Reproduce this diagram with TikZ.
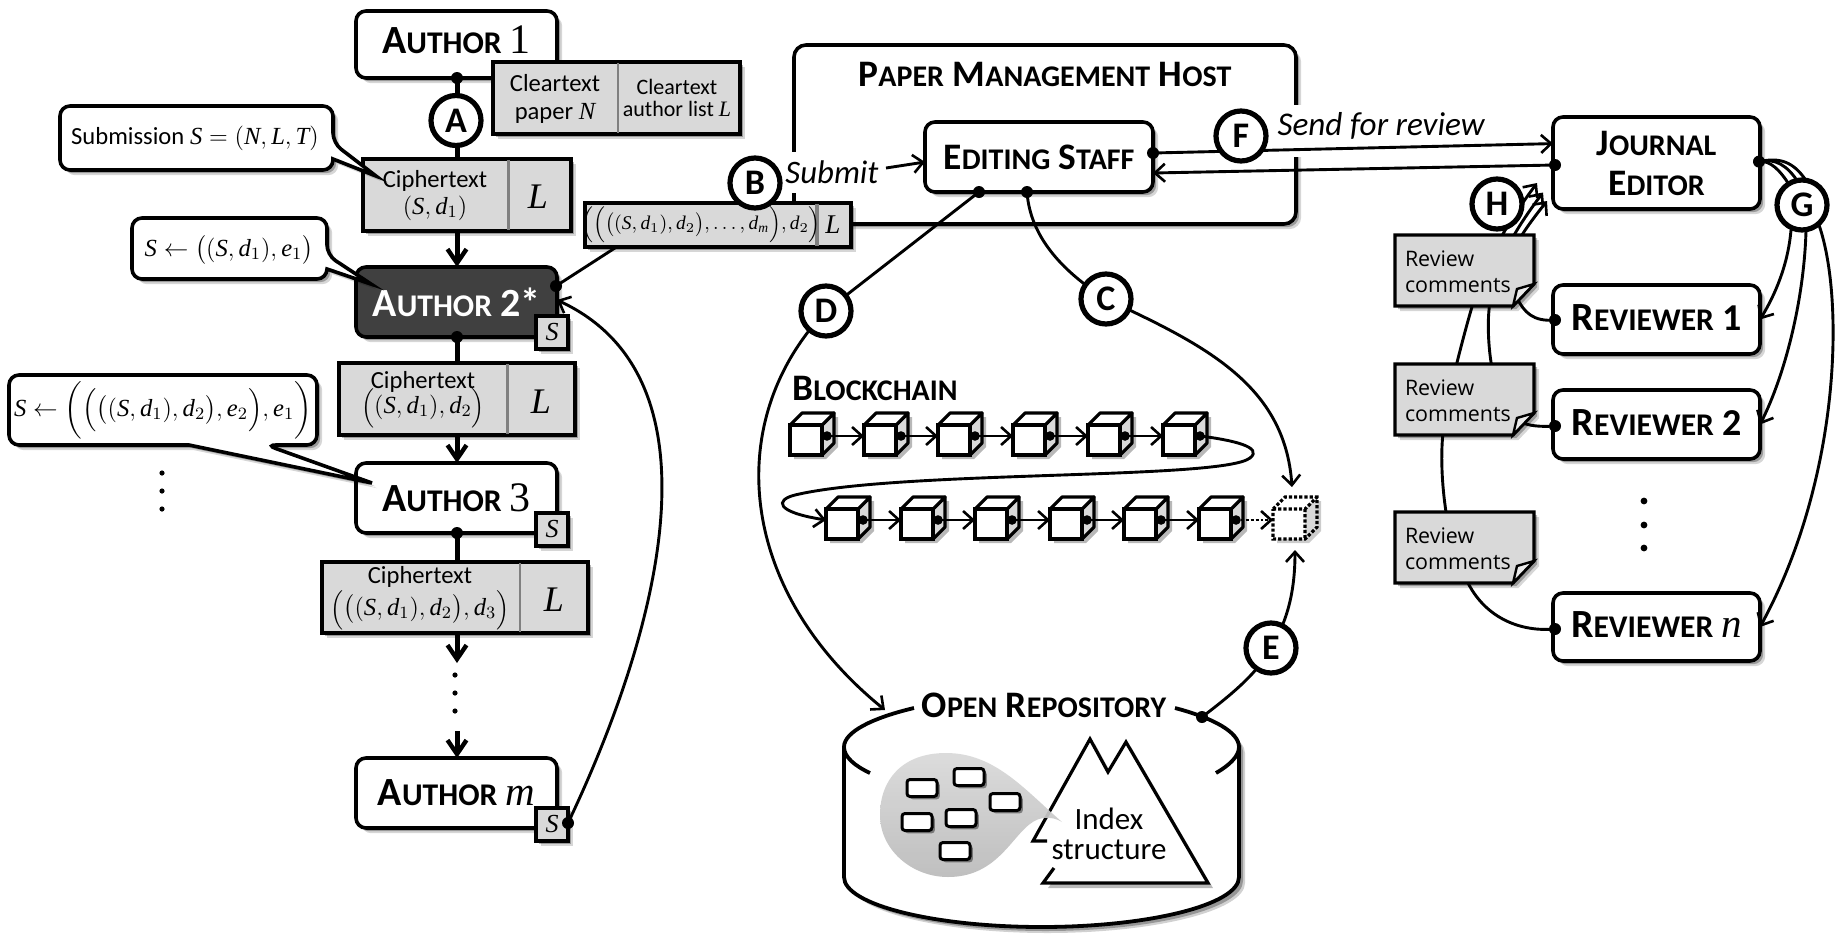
\RequirePackage{fix-cm}
\documentclass[tikz,border=0pt]{standalone}
\usepackage{amsmath}
\usepackage{fontspec}
\setmainfont{Carlito}
\newfontfamily\notefont{Open Sans}
\newfontfamily\lsf{Liberation Serif}[NFSSFamily=lserif]
\DeclareSymbolFont{lsit}{TU}{lserif}{m}{it}
\DeclareSymbolFont{lsrm}{TU}{lserif}{m}{n}
\DeclareMathSymbol{S}{\mathalpha}{lsit}{`S}
\DeclareMathSymbol{N}{\mathalpha}{lsit}{`N}
\DeclareMathSymbol{L}{\mathalpha}{lsit}{`L}
\DeclareMathSymbol{T}{\mathalpha}{lsit}{`T}
\DeclareMathSymbol{d}{\mathalpha}{lsit}{`d}
\DeclareMathSymbol{e}{\mathalpha}{lsit}{`e}
\DeclareMathSymbol{m}{\mathalpha}{lsit}{`m}
\DeclareMathSymbol{n}{\mathalpha}{lsit}{`n}
\DeclareMathSymbol{1}{\mathalpha}{lsrm}{`1}
\DeclareMathSymbol{2}{\mathalpha}{lsrm}{`2}
\DeclareMathSymbol{3}{\mathalpha}{lsrm}{`3}
\DeclareMathSymbol{(}{\mathopen}{lsrm}{`(}
\DeclareMathSymbol{)}{\mathclose}{lsrm}{`)}
\usetikzlibrary{arrows.meta,shadows,calc}
\definecolor{boxgray}{HTML}{D9D9D9}
\definecolor{divgray}{HTML}{808080}
\definecolor{darkbox}{HTML}{404040}
\newcommand{\fs}[1]{\fontsize{#1}{#1}\selectfont}
\newcommand{\SC}[2]{{\bfseries\fs{18.7}#1\fs{15}#2}}
\newcommand{\SCA}[2]{{\bfseries\fs{20}#1\fs{15.8}#2}}
\newcommand{\mnum}[1]{{\lsf\fs{21}#1}}
\newcommand{\up}[2]{\raisebox{#1}[\height][\depth]{#2}}
\newcommand{\tallL}{\mbox{\fs{10.5}$\Bigl($}}
\newcommand{\tallR}{\mbox{\fs{10.5}$\Bigr)$}}
\tikzset{
  softshadow/.style={drop shadow={shadow xshift=2.6pt,shadow yshift=-2.6pt,opacity=.16,fill=black},
                     drop shadow={shadow xshift=1.6pt,shadow yshift=-1.6pt,opacity=.28,fill=black}},
  wh/.style 2 args={minimum width=#1*.5pt,minimum height=#2*.5pt},
  basenode/.style={inner sep=0pt,outer sep=0pt,align=center},
  actor/.style={basenode,draw=black,line width=1.8pt,rounded corners=5pt,fill=white,softshadow,font=\fs{18}},
  darkactor/.style={actor,fill=darkbox,text=white},
  databox/.style={basenode,draw=black,line width=2pt,fill=boxgray,softshadow},
  sbox/.style={databox,wh={32}{33},font=\fs{13}},
  divider/.style={draw=divgray,line width=1.1pt},
  tag/.style={basenode,circle,draw=black,line width=2.6pt,fill=white,minimum size=25pt,font=\bfseries\fs{18}},
  dotn/.style={circle,fill=black,inner sep=0pt,outer sep=0pt,minimum size=6pt},
  smalldot/.style={circle,fill=black,inner sep=0pt,outer sep=0pt,minimum size=4.8pt},
  ell/.style={circle,fill=black,inner sep=0pt,outer sep=0pt,minimum size=2.6pt},
  heavy/.style={draw=black,line width=2.5pt},
  heavyarrow/.style={heavy,-{Straight Barb[length=7pt,width=9.5pt,line width=2.2pt]}},
  conn/.style={draw=black,line width=1.45pt},
  connarrow/.style={conn,-{Straight Barb[length=5pt,width=9pt,line width=1.3pt]}},
  callout/.style={draw=black,line width=1.8pt,fill=white,softshadow},
  label/.style={basenode,font=\fs{12.3}},
  cubefront/.style={basenode,draw=black,line width=1.6pt,fill=white,wh={32}{30}},
  noteface/.style={draw=black,line width=1.6pt,fill=boxgray,softshadow},
  minibox/.style={basenode,draw=black,line width=1.5pt,rounded corners=1.5pt,fill=white,wh={30}{17},
    drop shadow={shadow xshift=1.4pt,shadow yshift=-1.4pt,opacity=.4,fill=black}},
}
\newcommand{\cube}[3]{%
  \begin{scope}[shift={(#2,#3)}]
    \path[fill=white,drop shadow={shadow xshift=2pt,shadow yshift=-2pt,opacity=.28,fill=black}]
      (0,12)--(12,0)--(44,0)--(44,30)--(32,42)--(0,42)--cycle;
    \draw[line width=1.6pt,fill=boxgray,line join=round] (32,12)--(44,0)--(44,30)--(32,42)--cycle;
    \draw[line width=1.6pt,fill=white,line join=round] (0,12)--(12,0)--(44,0)--(32,12)--cycle;
    \node[cubefront] (#1) at (16,27) {};
    \node[smalldot] (#1d) at (37,23) {};
  \end{scope}}
\newcommand{\revnote}[2]{%
  \begin{scope}[shift={(1395,#2)}]
    \draw[noteface,line join=miter] (0,0)--(139,0)--(139,49)--(118,71)--(0,71)--cycle;
    \draw[line width=1.2pt,fill=white!92!black,line join=miter] (139,49)--(118,71)--(122,54)--cycle;
    \node[basenode,align=left,anchor=north west,font=\notefont\fs{10.7}] (#1) at (10,16)
      {Review\\[2.3pt]comments};
  \end{scope}}
\begin{document}
\begin{tikzpicture}[x=.5pt,y=-.5pt]
\useasboundingbox (0,0) rectangle (1844,943);
\fill[white] (0,0) rectangle (1844,943);

% ---- paper management host
\node[actor,wh={502}{179},rounded corners=6pt] (host) at (1045,134.5) {};
\fill[white] (786,152) rectangle (804,193);
\fill[white] (1286,105) rectangle (1306,157);
\node[basenode] (hosttitle) at (1045,74) {\SC{P}{APER}\hspace{2pt} \SC{M}{ANAGEMENT}\hspace{2pt} \SC{H}{OST}};

% ---- left column
\node[actor,wh={201}{67}] (a1) at (456.5,44.5) {\up{2.4pt}{\SCA{A}{UTHOR} \mnum{1}}};
\node[dotn] (a1d) at (457,78) {};
\node[darkactor,wh={201}{70}] (a2) at (456.5,302) {\SCA{A}{UTHOR} {\bfseries\fs{20}2*}};
\node[dotn] (a2d) at (457,337) {};
\node[dotn] (a2r) at (556,286) {};
\node[actor,wh={201}{70}] (a3) at (456.5,498) {\SCA{A}{UTHOR} \mnum{3}};
\node[dotn] (a3d) at (457,533) {};
\node[actor,wh={201}{70}] (am) at (456.5,793) {\SCA{A}{UTHOR} {\fs{20.5}$m$}};

% column connectors
\draw[heavy] (a1d.center) -- (457,159);
\node[databox,wh={208}{72}] (ct1) at (467,195) {};
\draw[heavyarrow] (ct1.south-|a1d) -- (a2.north-|a1d);
\draw[heavy] (a2d.center) -- (457,363);
\node[databox,wh={236}{72}] (ct2) at (457,399) {};
\draw[heavyarrow] (ct2.south-|a2d) -- (a3.north-|a2d);
\draw[heavy] (a3d.center) -- (457,562);
\node[databox,wh={266}{71}] (ct3) at (455,597.5) {};
\coordinate (ctend) at (457,663);
\draw[heavyarrow] (ct3.south-|a3d) -- (ctend);
\coordinate (amstart) at (457,731);
\draw[heavyarrow] (amstart) -- (am.north-|a3d);

\draw[divider] (508.5,160) -- (508.5,230);
\node[label] (ct1a) at (435,181) {Ciphertext};
\node[label] (ct1b) at (435,208) {$(S,d_1)$};
\node[label,font=\fs{18}] (ct1c) at (538,197) {$L$};
\draw[divider] (507.5,364) -- (507.5,434);
\node[label] (ct2a) at (423,382) {Ciphertext};
\node[label] (ct2b) at (423,408) {\tallL$(S,d_1),d_2$\tallR};
\node[label,font=\fs{18}] (ct2c) at (541,402) {$L$};
\draw[divider] (520,563) -- (520,632);
\node[label] (ct3a) at (420,577) {Ciphertext};
\node[label] (ct3b) at (420,610) {\tallL$\bigl((S,d_1),d_2\bigr),d_3$\tallR};
\node[label,font=\fs{18}] (ct3c) at (554,600) {$L$};

% A tag and cleartext box
\node[tag] (tA) at (456,120.5) {A};
\node[databox,wh={247}{72}] (clear) at (616,98) {};
\draw[divider] (618,63) -- (618,133);
\node[label] (cl1) at (555,99) {Cleartext\\[1.5pt]paper $N$};
\node[label,font=\fs{11}] (cl2) at (677,98) {Cleartext\\[.3pt]author list $L$};

% S badges
\node[sbox] (s2) at (552,332.5) {$S$};
\node[sbox] (s3) at (552,529.5) {$S$};
\node[sbox] (sm) at (552,824) {$S$};
\node[dotn] (smd) at (568,823) {};
\draw[connarrow] (smd.center) .. controls (655,640) and (730,380) .. (a2.east|-300,300);

% callouts
\draw[callout] [rounded corners=5pt] (60,106) -- (333,106) -- (333,143) [sharp corners] -- (376,176) -- (333,159) [rounded corners=5pt] -- (333,170) -- (60,170) -- cycle;
\node[label] (co1) at (195,138) {Submission $S=(N,L,T)$};
\draw[callout] [rounded corners=5pt] (132,218) -- (327,218) -- (327,255) [sharp corners] -- (371,284) -- (327,269) [rounded corners=5pt] -- (327,279) -- (132,279) -- cycle;
\node[label] (co2) at (229,250) {$S\leftarrow\bigl((S,d_1),e_1\bigr)$};
\draw[callout] [rounded corners=5pt] (9,375) -- (317,375) -- (317,445) -- (266,445) [sharp corners] -- (372,483) -- (189,445) [rounded corners=5pt] -- (9,445) -- cycle;
\node[label] (co3) at (163,410) {$S\leftarrow\biggl(\Bigl(\bigl((S,d_1),d_2\bigr),e_2\Bigr),e_1\biggr)$};
\node[ell] (lv1) at (162,473) {};
\node[ell] (lv2) at (162,491) {};
\node[ell] (lv3) at (162,509) {};
\node[ell] (cv1) at (455,675) {};
\node[ell] (cv2) at (455,693) {};
\node[ell] (cv3) at (455,711) {};

% wide box and B
\draw[conn] (a2r.center) -- (618,246);
\node[databox,wh={266.5}{44}] (wide) at (717.75,225) {};
\draw[divider,line width=1.6pt] (817,204) -- (817,246);
\node[label,font=\fs{9.7}] (wtext) at (701,225) {$\Bigl(\Bigl(\bigl((S,d_1),d_2\bigr),\dots,d_m\Bigr),d_2\Bigr)$};
\node[label,font=\fs{13.5}] (wl) at (833,225) {$L$};
\node[basenode,font=\itshape\fs{16.4}] (submit) at (832,172) {Submit};
\node[tag] (tB) at (755,183) {B};

% editing staff
\node[actor,wh={228}{70}] (staff) at (1039,157) {\SC{E}{DITING} \SC{S}{TAFF}};
\draw[connarrow] (886,168) -- (staff.west|-925,162);
\node[dotn] (sd1) at (979,192) {};
\node[dotn] (sd2) at (1027,192) {};
\node[dotn] (sdr) at (1153,153) {};

% journal editor etc
\node[actor,wh={207}{92}] (je) at (1656.5,163) {\SC{J}{OURNAL}\\[2pt]\SC{E}{DITOR}};
\node[actor,wh={207}{69}] (r1) at (1656.5,319.5) {\up{1.2pt}{\SCA{R}{EVIEWER} {\bfseries\fs{19}1}}};
\node[actor,wh={207}{69}] (r2) at (1656.5,424.5) {\up{1.2pt}{\SCA{R}{EVIEWER} {\bfseries\fs{19}2}}};
\node[actor,wh={207}{68}] (rn) at (1656.5,627) {\up{1.2pt}{\SCA{R}{EVIEWER} {\fs{20.5}$n$}}};
\node[ell,minimum size=3.4pt] (rv1) at (1644,501) {};
\node[ell,minimum size=3.4pt] (rv2) at (1644,525) {};
\node[ell,minimum size=3.4pt] (rv3) at (1644,548) {};

% F
\node[basenode,font=\itshape\fs{16.6}] (send) at (1381,126) {Send for review};
\node[dotn] (jl) at (1555,165) {};
\draw[connarrow] (sdr.center) -- (je.west|-1553,143.6);
\draw[connarrow] (jl.center) -- (staff.east|-1153,173);
\node[tag] (tF) at (1241,136) {F};

% G
\node[dotn] (jr) at (1759,161.6) {};
\draw[conn] (jr.center) .. controls (1770,160) and (1780,170) .. (1790,186);
\draw[conn] (jr.center) .. controls (1775,158) and (1787,165) .. (1798,182);
\draw[conn] (jr.center) .. controls (1780,157) and (1793,162) .. (1805,179);
\draw[connarrow] (1791,230) .. controls (1788,265) and (1775,295) .. (r1.east);
\draw[connarrow] (1806,231) .. controls (1804,300) and (1785,375) .. (r2.east);
\draw[connarrow] (1819,225) .. controls (1845,300) and (1840,480) .. (rn.east);
\node[tag] (tG) at (1802,205) {G};

% reviewer to notes, H
\node[dotn] (r1d) at (1555,320) {};
\node[dotn] (r2d) at (1555,426) {};
\node[dotn] (rnd) at (1555,629) {};
\draw[connarrow] (r1d.center) .. controls (1533,322) and (1524,312) .. (1517,298) .. controls (1500,270) and (1508,250) .. (1547,201);
\draw[connarrow] (r2d.center) .. controls (1540,427) and (1530,426) .. (1520,422) .. controls (1492,410) and (1486,340) .. (1489,310) .. controls (1492,270) and (1511,235) .. (1543,192.5);
\draw[connarrow] (rnd.center) .. controls (1523,632) and (1487,620) .. (1468,583) .. controls (1447,550) and (1437,470) .. (1444,425) .. controls (1449,390) and (1465,330) .. (1474,300) .. controls (1486,260) and (1506,225) .. (1537,183);
\revnote{n1}{235}
\revnote{n2}{364}
\revnote{n3}{512}
\node[tag] (tH) at (1497,204) {H};

% D, C
\node[basenode] (bclabel) at (875,388) {\SC{B}{LOCKCHAIN}};
\draw[conn] (sd1.center) -- (826,311);
\draw[connarrow] (826,311) .. controls (722,420) and (737,590) .. (885,710);
\draw[conn] (sd2.center) .. controls (1030,235) and (1060,270) .. (1106,299);
\draw[connarrow] (1106,299) .. controls (1205,345) and (1285,385) .. (1292,487);
\node[tag] (tD) at (826,311) {D};
\node[tag] (tC) at (1106,299) {C};

% blockchain
\cube{c1}{790}{413}\cube{c2}{864}{413}\cube{c3}{938}{413}\cube{c4}{1013}{413}\cube{c5}{1088}{413}\cube{c6}{1163}{413}
\cube{c7}{826}{497}\cube{c8}{901}{497}\cube{c9}{975}{497}\cube{c10}{1050}{497}\cube{c11}{1124}{497}\cube{c12}{1199}{497}
\draw[connarrow] (c1d.center) -- (c2.west|-c1d);
\draw[connarrow] (c2d.center) -- (c3.west|-c2d);
\draw[connarrow] (c3d.center) -- (c4.west|-c3d);
\draw[connarrow] (c4d.center) -- (c5.west|-c4d);
\draw[connarrow] (c5d.center) -- (c6.west|-c5d);
\draw[connarrow] (c6d.center) .. controls (1232,440) and (1264,447) .. (1250,458) .. controls (1222,480) and (900,470) .. (795,495) .. controls (775,500) and (775,512) .. (c7.west|-c7d);
\draw[connarrow] (c7d.center) -- (c8.west|-c7d);
\draw[connarrow] (c8d.center) -- (c9.west|-c8d);
\draw[connarrow] (c9d.center) -- (c10.west|-c9d);
\draw[connarrow] (c10d.center) -- (c11.west|-c10d);
\draw[connarrow] (c11d.center) -- (c12.west|-c11d);
% pending dotted block
\begin{scope}[shift={(1273,497)}]
  \path[fill=white,drop shadow={shadow xshift=2pt,shadow yshift=-2pt,opacity=.2,fill=black}] (0,12)--(12,0)--(44,0)--(44,30)--(32,42)--(0,42)--cycle;
  \fill[boxgray] (32,12)--(44,0)--(44,30)--(32,42)--cycle;
  \draw[line width=1.6pt,densely dotted] (0,12)--(12,0)--(44,0)--(44,30)--(32,42)--(0,42)--cycle (0,12)--(32,12)--(44,0) (32,12)--(32,42);
  \node[basenode,wh={32}{30}] (cnew) at (16,27) {};
\end{scope}
\draw[conn,densely dotted,-{Straight Barb[length=5pt,width=9pt,line width=1.3pt]}] (c12d.center) -- (cnew.west|-c12d);

% repository
\path[fill=white,drop shadow={shadow xshift=3pt,shadow yshift=-3pt,opacity=.18,fill=black},drop shadow={shadow xshift=2pt,shadow yshift=-2pt,opacity=.28,fill=black}]
  (844,747) .. controls (844,720) and (935,697) .. (1041.5,697) .. controls (1148,697) and (1239,720) .. (1239,747) -- (1239,877) .. controls (1239,905) and (1148,927) .. (1041.5,927) .. controls (935,927) and (844,905) .. (844,877) -- cycle;
\draw[line width=1.9pt] (914,708) .. controls (872,718) and (844,732) .. (844,747) .. controls (844,757) and (855,766) .. (870,773);
\draw[line width=1.9pt] (1175,708) .. controls (1213,718) and (1239,732) .. (1239,747) .. controls (1239,757) and (1228,766) .. (1216,773);
\draw[line width=1.9pt] (844,747) -- (844,877) .. controls (844,905) and (935,927) .. (1041.5,927) .. controls (1148,927) and (1239,905) .. (1239,877) -- (1239,747);
\node[basenode] (repo) at (1044,705) {\SC{O}{PEN}\hspace{2pt} \SC{R}{EPOSITORY}};
\node[dotn] (rd) at (1202,717) {};
\draw[conn] (rd.center) .. controls (1235,692) and (1258,672) .. (1271,648);
\draw[connarrow] (1271,648) .. controls (1288,620) and (1295,590) .. (1295,550);
\node[tag] (tE) at (1271,648) {E};

% mountain (index structure)
\path[fill=white,drop shadow={shadow xshift=2.5pt,shadow yshift=-2.5pt,opacity=.28,fill=black}]
  (1090,739) -- (1108,772) -- (1126,742) -- (1208,883) -- (1043,883) -- (1054,868) -- (1033,841) -- cycle;
\draw[line width=1.6pt,line join=miter] (1047,841) -- (1033,841) -- (1090,739) -- (1108,772) -- (1126,742) -- (1208,883) -- (1043,883) -- (1054,868);
% blob
\path[top color=boxgray,bottom color=black!27,opacity=.92]
  (1062,822) .. controls (1025,790) and (995,753) .. (946,753) .. controls (902,753) and (880,780) .. (880,815) .. controls (880,850) and (912,877) .. (948,877) .. controls (1005,877) and (1015,822) .. (1043,818) .. controls (1051,817) and (1057,819) .. (1062,822);
\node[minibox] (m1) at (922,788) {};
\node[minibox] (m2) at (969,777) {};
\node[minibox] (m3) at (1005,802) {};
\node[minibox] (m4) at (917,822) {};
\node[minibox] (m5) at (961,818) {};
\node[minibox] (m6) at (955,851) {};
\node[basenode,font=\fs{15.5}] (idx1) at (1109,819) {Index};
\node[basenode,font=\fs{15.5}] (idx2) at (1109,850) {structure};
\end{tikzpicture}
\end{document}
